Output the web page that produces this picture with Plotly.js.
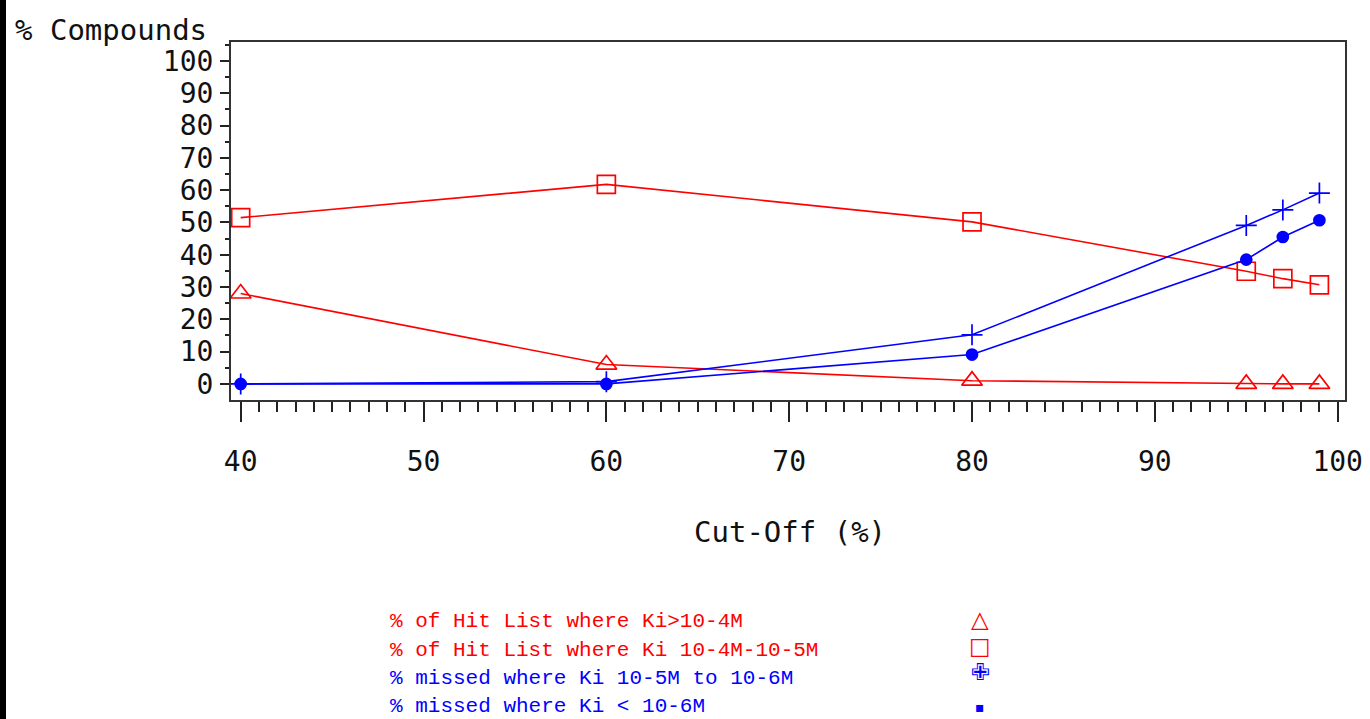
<!DOCTYPE html>
<html>
<head>
<meta charset="utf-8">
<script src="https://cdn.plot.ly/plotly-3.0.1.min.js"></script>
<style>
  html, body { margin: 0; padding: 0; background: #000; width: 1370px; height: 719px; overflow: hidden; }
  #chart { position: absolute; left: 6px; top: 0; width: 1364px; height: 719px; background: #fff; }
</style>
</head>
<body>
<div id="chart"></div>
<script>
// ---- data ----
const cutOff = [40, 60, 80, 95, 97, 99];
const hitKiAbove4 = [28, 6, 1, 0, 0, 0];            // % of Hit List where Ki>10-4M (triangles)
const hitKi4to5 = [51.5, 61.8, 50.2, 34.9, 32.6, 30.7]; // % of Hit List where Ki 10-4M-10-5M (squares)
const missedKi5to6 = [0, 0.7, 15.2, 49.1, 53.9, 59.1];  // % missed where Ki 10-5M to 10-6M (plus)
const missedKiBelow6 = [0, 0, 9.1, 38.5, 45.5, 50.7];   // % missed where Ki < 10-6M (dots)

const seriesNames = [
  "% of Hit List where Ki>10-4M",
  "% of Hit List where Ki 10-4M-10-5M",
  "% missed where Ki 10-5M to 10-6M",
  "% missed where Ki < 10-6M"
];
const seriesValues = [hitKiAbove4, hitKi4to5, missedKi5to6, missedKiBelow6];
const xTickVals = [40, 50, 60, 70, 80, 90, 100];
const yTickVals = [0, 10, 20, 30, 40, 50, 60, 70, 80, 90, 100];

// ---- styles ----
const RED = "#ff0000", BLUE = "#0000ff";
const styles = [
  {color: RED, symbol: "triangle-up-open", size: 18, key: "\u25B3", keySize: 23},
  {color: RED, symbol: "square-open", size: 18, key: "\u25A1", keySize: 23},
  {color: BLUE, symbol: "cross-thin-open", size: 15, key: "\u2719", keySize: 23},
  {color: BLUE, symbol: "circle", size: 11, key: "\u25AA", keySize: 14}
];

const traces = seriesValues.map((vals, i) => ({
  type: "scatter",
  mode: "lines+markers",
  x: cutOff,
  y: vals,
  name: seriesNames[i],
  line: {color: styles[i].color, width: 1.6},
  marker: {
    symbol: styles[i].symbol,
    size: styles[i].size,
    color: styles[i].color,
    line: {color: styles[i].color, width: 1.7}
  },
  cliponaxis: false,
  showlegend: false
}));

const monoFont = "DejaVu Sans Mono, monospace";
const plotLeft = 231, plotRight = 1345, plotTop = 42, plotBottom = 400;
const pw = plotRight - plotLeft, ph = plotBottom - plotTop;
const px = v => (v - plotLeft) / pw;
const py = v => (plotBottom - v) / ph;

const annotations = [
  {text: "% Compounds", xref: "paper", yref: "paper", x: px(13), y: py(30),
   xanchor: "left", yanchor: "middle", showarrow: false,
   font: {family: monoFont, size: 29, color: "#111"}},
  {text: "Cut-Off (%)", xref: "paper", yref: "paper", x: px(790), y: py(532),
   xanchor: "center", yanchor: "middle", showarrow: false,
   font: {family: monoFont, size: 29, color: "#111"}}
];
const legendTextY = [621, 650, 678, 706];
const legendKeyY = [619, 646, 672, 707];
seriesNames.forEach((nm, i) => {
  annotations.push({
    text: nm, xref: "paper", yref: "paper", x: px(388), y: py(legendTextY[i]),
    xanchor: "left", yanchor: "middle", showarrow: false,
    font: {family: "Liberation Mono, monospace", size: 21, color: styles[i].color}
  });
  annotations.push({
    text: styles[i].key, xref: "paper", yref: "paper", x: px(980), y: py(legendKeyY[i]),
    xanchor: "center", yanchor: "middle", showarrow: false, borderpad: 0,
    font: {family: "DejaVu Sans", size: styles[i].keySize, color: styles[i].color}
  });
});

const layout = {
  width: 1364, height: 719,
  margin: {l: plotLeft - 6, r: 1364 - (plotRight - 6), t: plotTop, b: 719 - plotBottom, pad: 0},
  paper_bgcolor: "#ffffff",
  plot_bgcolor: "#ffffff",
  showlegend: false,
  xaxis: {
    range: [39.47, 100.4],
    tickvals: xTickVals,
    ticktext: xTickVals.map(String),
    ticks: "outside", ticklen: 20, tickwidth: 2, tickcolor: "#222",
    minor: {dtick: 1, ticks: "outside", ticklen: 10, tickwidth: 2, tickcolor: "#222", showgrid: false},
    showline: true, mirror: true, linecolor: "#333", linewidth: 2,
    showgrid: false, zeroline: false,
    ticklabelstandoff: 15,
    tickfont: {family: monoFont, size: 28, color: "#111"}
  },
  yaxis: {
    range: [-4.98, 105.9],
    tickvals: yTickVals,
    ticktext: yTickVals.map(String),
    ticks: "outside", ticklen: 9, tickwidth: 2, tickcolor: "#222",
    minor: {dtick: 5, ticks: "outside", ticklen: 4, tickwidth: 2, tickcolor: "#222", showgrid: false},
    showline: true, mirror: true, linecolor: "#333", linewidth: 2,
    showgrid: false, zeroline: false,
    ticklabelstandoff: 1,
    tickfont: {family: monoFont, size: 28, color: "#111"}
  },
  annotations: annotations
};

Plotly.newPlot("chart", traces, layout, {displayModeBar: false, staticPlot: true});
</script>
</body>
</html>
